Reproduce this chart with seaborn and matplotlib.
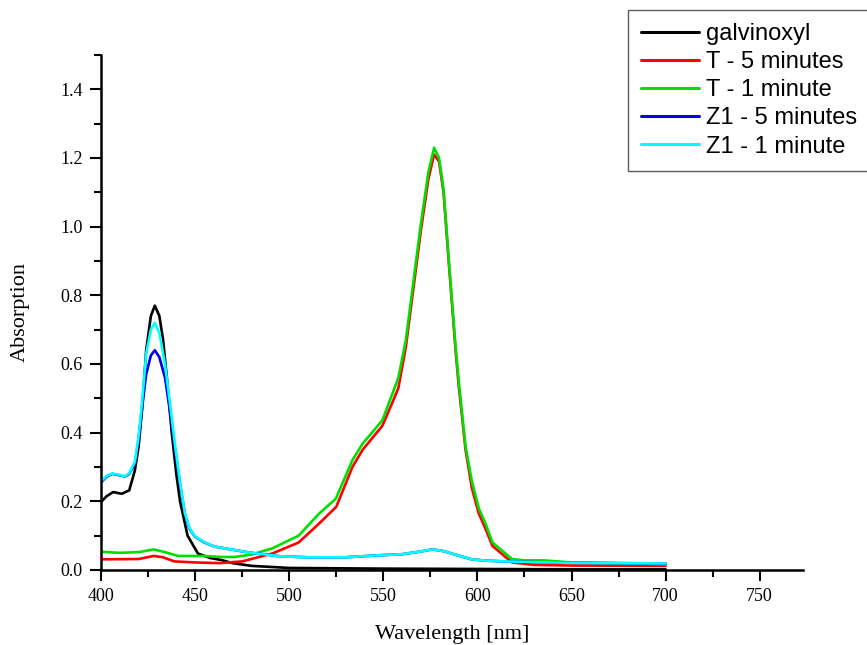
import numpy as np
import pandas as pd
import matplotlib
matplotlib.use("Agg")
import matplotlib.pyplot as plt
from matplotlib.ticker import MultipleLocator, FormatStrFormatter
import seaborn as sns

# ---- data ----
galv_nm = [400, 403, 406.5, 411, 415, 418, 420, 422, 424, 426.5, 428.6, 431, 433, 435,
           437.4, 440, 442, 446, 451.5, 458, 464, 470, 480, 500, 550, 600, 650, 700]
galv_abs = [0.198, 0.215, 0.227, 0.222, 0.232, 0.29, 0.36, 0.48, 0.64, 0.74, 0.77, 0.74, 0.67, 0.56,
            0.41, 0.28, 0.20, 0.10, 0.048, 0.035, 0.029, 0.02, 0.012, 0.006, 0.004, 0.003, 0.002, 0.002]

t5_nm = [400, 420, 428, 433, 439, 450, 463, 475, 491, 505, 516, 525, 533.6, 539, 549.5, 555,
         558, 562, 566, 570, 574, 577, 579.6, 582, 585, 588.4, 590, 593.7, 597, 600.7, 604.3,
         608, 614.9, 618.4, 630, 650, 700]
t5_abs = [0.031, 0.032, 0.041, 0.037, 0.025, 0.022, 0.02, 0.025, 0.048, 0.08, 0.136, 0.184, 0.30, 0.35,
          0.42, 0.49, 0.53, 0.65, 0.82, 0.99, 1.14, 1.21, 1.19, 1.10, 0.88, 0.64, 0.54, 0.35, 0.24,
          0.165, 0.12, 0.07, 0.038, 0.022, 0.015, 0.013, 0.012]

t1_nm = [400, 410, 420, 428, 434, 441, 455, 463, 471, 480, 491, 505, 516, 524.8, 533.6, 539,
         549.5, 554.8, 558, 562, 566, 570, 574, 577, 579.6, 582, 585, 588.4, 590, 593.7, 597,
         600.7, 604.3, 608, 614.9, 618.4, 625, 635, 650, 700]
t1_abs = [0.053, 0.050, 0.052, 0.060, 0.052, 0.041, 0.041, 0.038, 0.038, 0.045, 0.063, 0.10, 0.165, 0.208,
          0.32, 0.368, 0.436, 0.513, 0.56, 0.67, 0.84, 1.01, 1.16, 1.23, 1.20, 1.11, 0.89, 0.65, 0.555,
          0.36, 0.26, 0.18, 0.135, 0.08, 0.048, 0.032, 0.028, 0.028, 0.022, 0.017]

z1_nm = [400, 403, 406, 409, 412.7, 415, 418, 420, 422, 424, 426.5, 428.6, 431, 434, 437,
         439.2, 442, 444.5, 447, 450, 455, 460.4, 471, 480, 495, 510, 530, 548, 560, 570, 576,
         582, 590, 597, 605, 615, 630, 650, 700]
z1_5_abs = [0.255, 0.272, 0.28, 0.277, 0.272, 0.28, 0.31, 0.38, 0.48, 0.57, 0.625, 0.64, 0.62, 0.56, 0.45,
            0.36, 0.25, 0.165, 0.12, 0.097, 0.08, 0.068, 0.058, 0.05, 0.04, 0.037, 0.037, 0.043, 0.046,
            0.054, 0.060, 0.055, 0.042, 0.031, 0.027, 0.025, 0.023, 0.021, 0.019]
z1_1_abs = [0.258, 0.274, 0.281, 0.278, 0.273, 0.282, 0.315, 0.39, 0.50, 0.63, 0.70, 0.72, 0.69, 0.60, 0.47,
            0.37, 0.255, 0.168, 0.122, 0.098, 0.081, 0.068, 0.058, 0.05, 0.04, 0.037, 0.037, 0.043, 0.046,
            0.054, 0.060, 0.055, 0.042, 0.031, 0.027, 0.025, 0.023, 0.021, 0.019]

series_names = ["galvinoxyl", "T - 5 minutes", "T - 1 minute", "Z1 - 5 minutes", "Z1 - 1 minute"]
series_colors = ["#000000", "#ff0000", "#00e000", "#0000ee", "#00ffff"]

frames = []
for name, xs, ys in zip(series_names,
                        [galv_nm, t5_nm, t1_nm, z1_nm, z1_nm],
                        [galv_abs, t5_abs, t1_abs, z1_5_abs, z1_1_abs]):
    frames.append(pd.DataFrame({"nm": xs, "abs": ys, "sample": name}))
df = pd.concat(frames, ignore_index=True)

sns.set_style("ticks")
plt.rcParams['font.family'] = ['Liberation Serif', 'DejaVu Serif']
plt.rcParams['axes.edgecolor'] = 'black'
plt.rcParams['xtick.color'] = 'black'
plt.rcParams['ytick.color'] = 'black'
plt.rcParams['text.color'] = 'black'
plt.rcParams['axes.labelcolor'] = 'black'

fig = plt.figure(figsize=(8.67, 6.45), dpi=100)
ax = fig.add_axes([101 / 867, 1 - 570 / 645, 702 / 867, 515 / 645])

sns.lineplot(data=df, x="nm", y="abs", hue="sample", hue_order=series_names,
             palette=dict(zip(series_names, series_colors)), sort=False,
             estimator=None, linewidth=1.9, legend=False, ax=ax)

ax.set_xlim(400, 773)
ax.set_ylim(0, 1.5)
ax.xaxis.set_major_locator(MultipleLocator(50))
ax.xaxis.set_minor_locator(MultipleLocator(25))
ax.yaxis.set_major_locator(MultipleLocator(0.2))
ax.yaxis.set_minor_locator(MultipleLocator(0.1))
ax.yaxis.set_major_formatter(FormatStrFormatter('%.1f'))
ax.tick_params(which='major', direction='out', length=8, width=1.5, labelsize=13, pad=5)
ax.tick_params(which='minor', direction='out', length=5, width=1.5)
for side in ['left', 'bottom']:
    ax.spines[side].set_linewidth(1.8)
sns.despine(ax=ax)

ax.set_xlabel("Wavelength [nm]", fontsize=16, labelpad=14)
ax.set_ylabel("Absorption", fontsize=16, labelpad=22)

handles = ax.get_lines()[:len(series_names)]
leg = ax.legend(handles, series_names, loc='upper left',
                bbox_to_anchor=(628 / 867, 1 - 10 / 645), bbox_transform=fig.transFigure,
                borderaxespad=0, frameon=True, fancybox=False, edgecolor='#333333',
                prop={'family': 'Liberation Sans', 'size': 17},
                handlelength=2.45, handletextpad=0.3, labelspacing=0.26, borderpad=0.55)
leg.get_frame().set_linewidth(1.0)
for line in leg.get_lines():
    line.set_linewidth(2.2)

fig.savefig("out.png", dpi=100)
plt.close(fig)
